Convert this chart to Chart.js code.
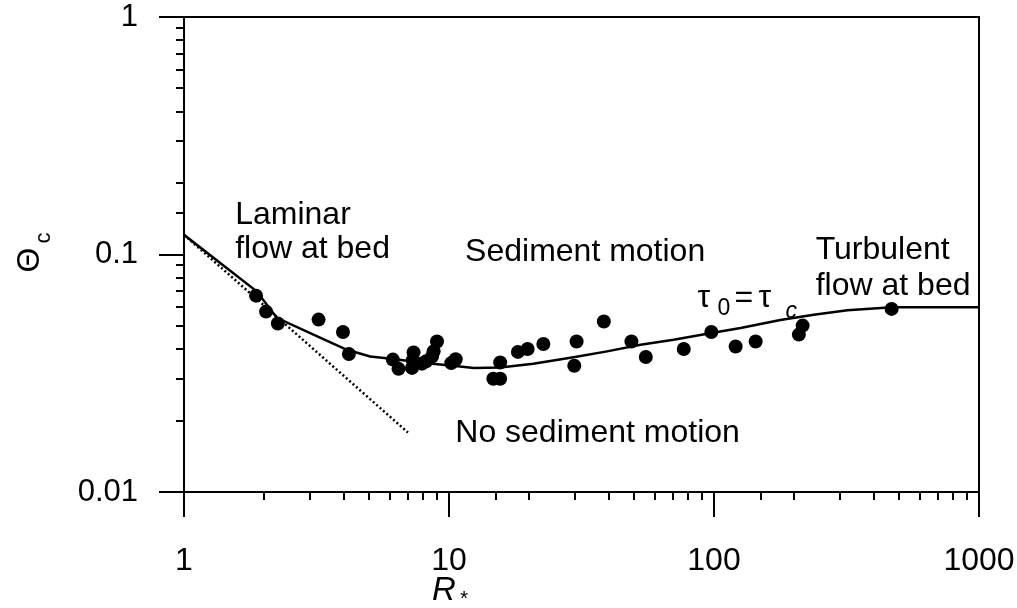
<!DOCTYPE html>
<html><head><meta charset="utf-8">
<script src="https://cdn.jsdelivr.net/npm/chart.js@4/dist/chart.umd.min.js"></script>
<style>html,body{margin:0;padding:0;background:#fff;}canvas{display:block}</style>
</head><body>
<canvas id="c" width="1017" height="608"></canvas>
<script>
// ---- data ----
const xTickLabels = ['1', '10', '100', '1000'];
const yTickLabels = ['0.01', '0.1', '1'];

// observed threshold points (R*, Theta_c)
const dataR = [1.87, 2.04, 2.26, 3.22, 3.98, 4.19, 6.14, 6.45, 7.35, 7.25, 7.3, 7.91, 8.2, 8.75, 9.01, 8.63, 10.2, 10.6, 14.7, 15.6, 15.6, 18.2, 19.8, 22.7, 30.3, 29.7, 38.4, 48.8, 55.3, 76.9, 97.7, 120.7, 143.6, 209, 216, 468];
const dataTheta = [0.0671, 0.0575, 0.0512, 0.0532, 0.0472, 0.0381, 0.0361, 0.0330, 0.0387, 0.0333, 0.0359, 0.0347, 0.0355, 0.0391, 0.0430, 0.0372, 0.0349, 0.0362, 0.0300, 0.0300, 0.0351, 0.0389, 0.0400, 0.0420, 0.0430, 0.0340, 0.0522, 0.0430, 0.0370, 0.0400, 0.0472, 0.0410, 0.0430, 0.0460, 0.0502, 0.0590];

// Shields curve (tau_0 = tau_c)
const curveR = [1.0, 1.88, 2.24, 3.08, 4.12, 5.04, 6.18, 7.79, 11.0, 12.4, 15.6, 20.8, 29.5, 39.5, 52.8, 70.4, 94.3, 126, 178, 238, 319, 426, 475, 1000];
const curveTheta = [0.121, 0.0700, 0.0541, 0.0460, 0.0397, 0.0372, 0.0363, 0.0351, 0.0338, 0.0333, 0.0334, 0.0347, 0.0369, 0.0391, 0.0417, 0.0438, 0.0464, 0.0490, 0.0530, 0.0558, 0.0582, 0.0596, 0.0600, 0.0600];

// laminar asymptote (dotted)
const laminarR = [1.0, 7.0];
const laminarTheta = [0.121, 0.0178];

// text labels anchored in data coordinates (left edge, baseline)
const labelText = ['Laminar', 'flow at bed', 'Sediment motion', 'Turbulent', 'flow at bed', 'No sediment motion'];
const labelR = [1.56, 1.56, 11.5, 242, 242, 10.56];
const labelTheta = [0.135, 0.0971, 0.0937, 0.096, 0.0678, 0.01625];
const tauLabelR = 86.7, tauLabelTheta = 0.0603;

const FONT = "'Liberation Sans', Arial, Helvetica, sans-serif";

function isDecade(v) {
  const l = Math.log10(v);
  return Math.abs(l - Math.round(l)) < 1e-9;
}
function decadeLabel(v, labels, minExp) {
  if (!isDecade(v)) return '';
  const i = Math.round(Math.log10(v)) - minExp;
  return labels[i] !== undefined ? labels[i] : '';
}
function noScalePadding(s) {
  s.paddingTop = 0; s.paddingBottom = 0; s.paddingLeft = 0; s.paddingRight = 0;
}

const framePlugin = {
  id: 'frame',
  afterDraw(chart) {
    const ctx = chart.ctx;
    const a = chart.chartArea;
    const xs = chart.scales.x, ys = chart.scales.y;
    ctx.save();
    ctx.strokeStyle = '#000';
    ctx.lineWidth = 2;
    ctx.strokeRect(a.left, a.top, a.right - a.left, a.bottom - a.top);
    // tick marks
    ctx.beginPath();
    xs.ticks.forEach(t => {
      const px = Math.round(xs.getPixelForValue(t.value));
      const len = isDecade(t.value) ? 25 : 8;
      ctx.moveTo(px, a.bottom);
      ctx.lineTo(px, a.bottom + len);
    });
    ys.ticks.forEach(t => {
      const py = Math.round(ys.getPixelForValue(t.value));
      const len = isDecade(t.value) ? 25 : 8;
      ctx.moveTo(a.left, py);
      ctx.lineTo(a.left - len, py);
    });
    ctx.stroke();

    // annotations
    ctx.fillStyle = '#000';
    ctx.textBaseline = 'alphabetic';
    ctx.textAlign = 'left';
    ctx.font = '32px ' + FONT;
    labelText.forEach((txt, i) => {
      ctx.fillText(txt, xs.getPixelForValue(labelR[i]), ys.getPixelForValue(labelTheta[i]));
    });

    // tau_0 = tau_c
    const tx = xs.getPixelForValue(tauLabelR), ty = ys.getPixelForValue(tauLabelTheta);
    ctx.font = '32px ' + FONT;
    ctx.fillText('\u03C4', tx, ty);
    ctx.font = '23px ' + FONT;
    ctx.fillText('0', tx + 20, ty + 8);
    ctx.font = '32px ' + FONT;
    ctx.fillText('=', tx + 37, ty);
    ctx.fillText('\u03C4', tx + 61, ty);
    ctx.font = 'italic 23px ' + FONT;
    ctx.fillText('c', tx + 88, ty + 11);

    // x-axis title R*
    const cx = xs.getPixelForValue(10);
    ctx.font = 'italic 33px ' + FONT;
    ctx.fillText('R', cx - 17, 600);
    ctx.font = '21px ' + FONT;
    ctx.fillText('*', cx + 11, 605);

    // y-axis title Theta_c (rotated)
    const cy = ys.getPixelForValue(0.1);
    ctx.translate(39, cy);
    ctx.rotate(-Math.PI / 2);
    ctx.font = '32px ' + FONT;
    ctx.fillText('\u0398', -18, 0);
    ctx.font = '22px ' + FONT;
    ctx.fillText('c', 11, 11);
    ctx.restore();
  }
};

const ctx = document.getElementById('c').getContext('2d');
new Chart(ctx, {
  type: 'scatter',
  data: {
    datasets: [
      {
        data: dataR.map((r, i) => ({x: r, y: dataTheta[i]})),
        showLine: false,
        pointRadius: 7,
        pointBackgroundColor: '#000',
        pointBorderColor: '#000',
        pointBorderWidth: 0,
        order: 0
      },
      {
        data: curveR.map((r, i) => ({x: r, y: curveTheta[i]})),
        showLine: true,
        borderColor: '#000',
        borderWidth: 2.5,
        pointRadius: 0,
        tension: 0,
        fill: false,
        order: 1
      },
      {
        data: laminarR.map((r, i) => ({x: r, y: laminarTheta[i]})),
        showLine: true,
        borderColor: '#000',
        borderWidth: 2.5,
        borderDash: [2, 2.5],
        pointRadius: 0,
        fill: false,
        order: 2
      }
    ]
  },
  options: {
    responsive: false,
    animation: false,
    devicePixelRatio: 1,
    layout: {padding: {left: 0, right: 38, top: 17, bottom: 0}},
    plugins: {legend: {display: false}, tooltip: {enabled: false}},
    scales: {
      x: {
        type: 'logarithmic', min: 1, max: 1000, position: 'bottom',
        grid: {display: false, drawTicks: false},
        border: {display: false},
        ticks: {
          autoSkip: false, maxRotation: 0, minRotation: 0, padding: 50,
          color: '#000', font: {family: FONT, size: 32},
          callback: (v) => decadeLabel(v, xTickLabels, 0)
        },
        afterFit(s) { s.height = 116; noScalePadding(s); }
      },
      y: {
        type: 'logarithmic', min: 0.01, max: 1, position: 'left',
        grid: {display: false, drawTicks: false},
        border: {display: false},
        ticks: {
          autoSkip: false, padding: 46,
          color: '#000', font: {family: FONT, size: 31},
          callback: (v) => decadeLabel(v, yTickLabels, -2)
        },
        afterFit(s) { s.width = 184; noScalePadding(s); }
      }
    }
  },
  plugins: [framePlugin]
});
</script>
</body></html>
